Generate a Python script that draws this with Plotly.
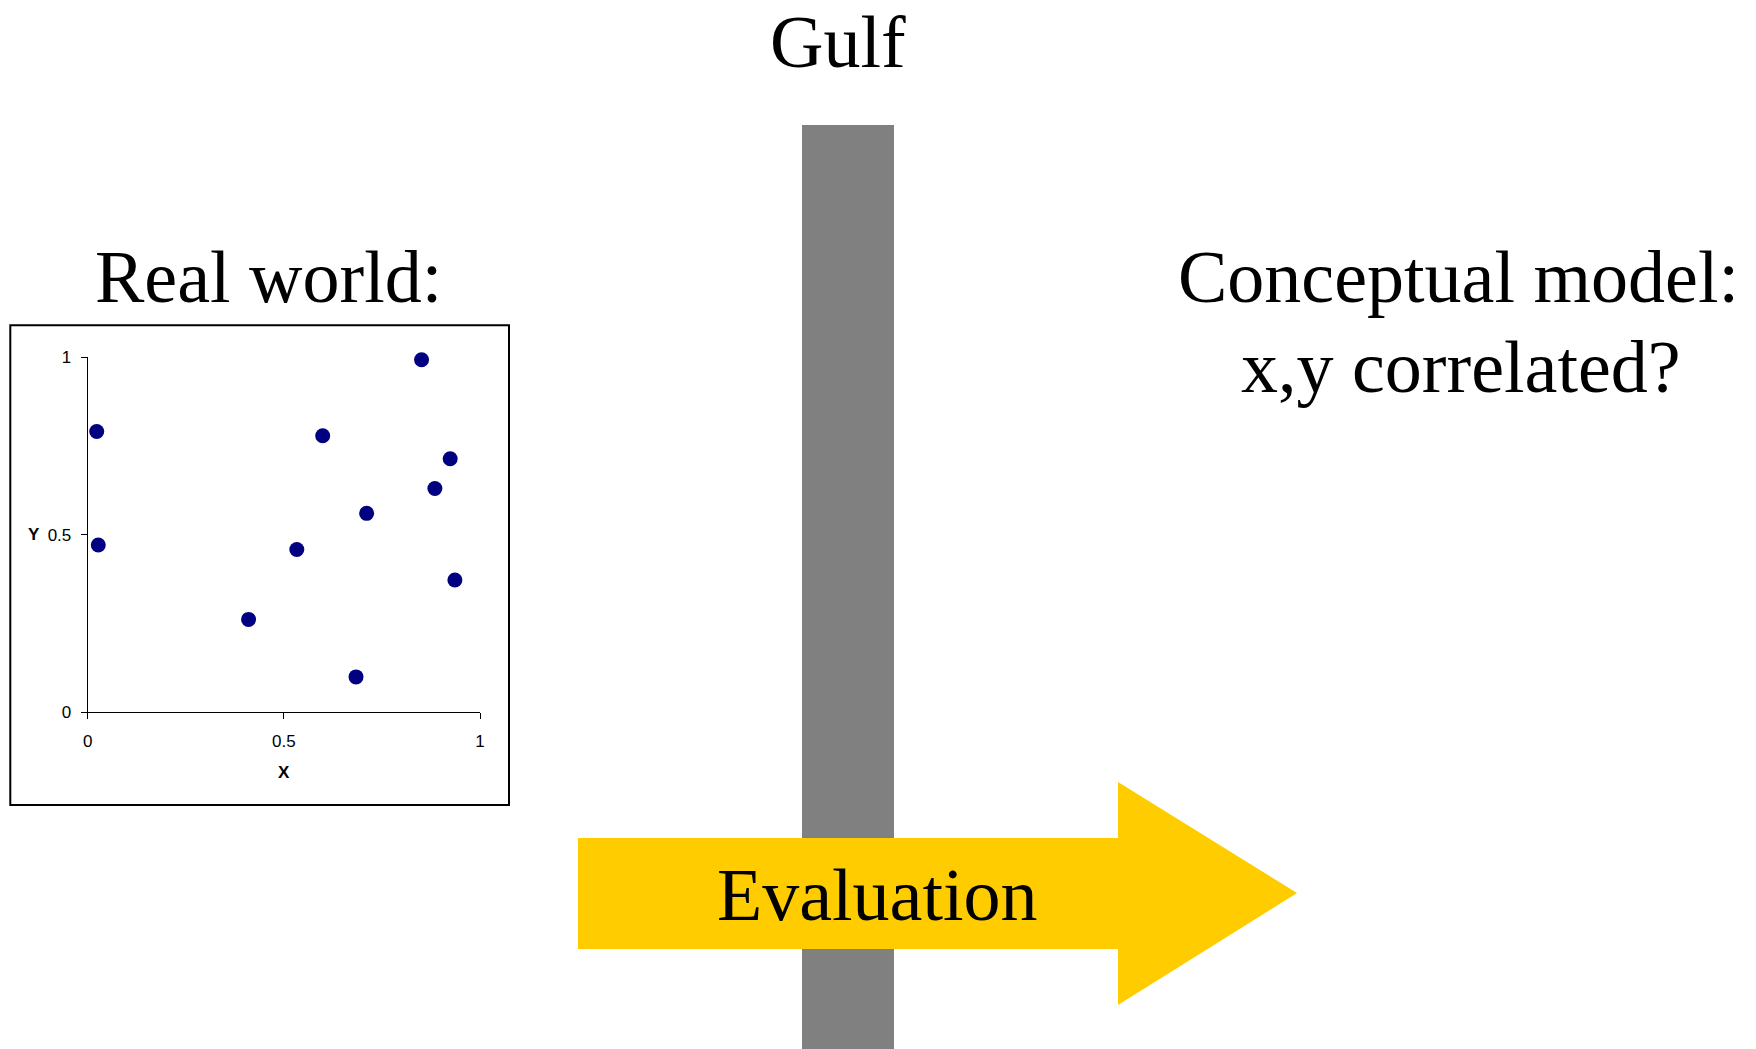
import plotly.graph_objects as go

W, H = 1756, 1049

# Data
x_vals = [0.023, 0.027, 0.410, 0.533, 0.599, 0.684, 0.711, 0.851, 0.885, 0.924, 0.936]
y_vals = [0.791, 0.471, 0.261, 0.458, 0.779, 0.099, 0.560, 0.993, 0.630, 0.714, 0.372]
tick_vals = [0, 0.5, 1]
tick_text = ["0", "0.5", "1"]


def px(x):
    return x / W


def py(y):
    return 1 - y / H


fig = go.Figure()
fig.add_trace(go.Scatter(
    x=x_vals, y=y_vals, mode="markers",
    marker=dict(color="#000080", size=15, line=dict(width=0)),
    cliponaxis=False, showlegend=False, hoverinfo="skip",
))

axis_font = dict(family="Liberation Sans, Arial", size=17, color="black")

fig.update_layout(
    width=W, height=H,
    margin=dict(l=0, r=0, t=0, b=0, pad=0, autoexpand=False),
    paper_bgcolor="white", plot_bgcolor="white",
    showlegend=False,
    xaxis=dict(
        domain=[px(87.7), px(480)], range=[0, 1], showgrid=False, zeroline=False,
        showline=True, linecolor="black", linewidth=1,
        ticks="outside", ticklen=6, tickcolor="black", tickwidth=1,
        tickvals=tick_vals, ticktext=tick_text, tickfont=axis_font,
        ticklabelstandoff=8, anchor="y", fixedrange=True, automargin=False,
    ),
    yaxis=dict(
        domain=[py(712), py(357.3)], range=[0, 1], showgrid=False, zeroline=False,
        showline=True, linecolor="black", linewidth=1,
        ticks="outside", ticklen=6, tickcolor="black", tickwidth=1,
        tickvals=tick_vals, ticktext=tick_text, tickfont=axis_font,
        ticklabelstandoff=6, anchor="x", fixedrange=True, automargin=False,
    ),
)

shapes = []
# scatter frame
shapes.append(dict(type="rect", xref="paper", yref="paper",
                   x0=px(10.3), x1=px(509), y0=py(805), y1=py(325.3),
                   line=dict(color="black", width=2), fillcolor="rgba(0,0,0,0)"))
# gulf bar
shapes.append(dict(type="rect", xref="paper", yref="paper",
                   x0=px(802), x1=px(894), y0=py(1049), y1=py(125),
                   line=dict(width=0), fillcolor="#808080", layer="below"))
# evaluation arrow
pts = [(578, 838), (1118, 838), (1118, 782), (1297, 893), (1118, 1005), (1118, 949), (578, 949)]
path = "M " + " L ".join(f"{px(a):.6f},{py(b):.6f}" for a, b in pts) + " Z"
shapes.append(dict(type="path", xref="paper", yref="paper", path=path,
                   line=dict(width=0), fillcolor="#FFCC00", layer="below"))
fig.update_layout(shapes=shapes)

serif = dict(family="Liberation Serif, Times New Roman, serif", size=74, color="black")
texts = [
    ("Gulf", 838, 42),
    ("Real world:", 268.6, 277),
    ("Conceptual model:", 1458, 277),
    ("x,y correlated?", 1461, 367),
    ("Evaluation", 877, 895),
]
annotations = []
for t, cx, cy in texts:
    annotations.append(dict(text=t, x=px(cx), y=py(cy), xref="paper", yref="paper",
                            xanchor="center", yanchor="middle", showarrow=False, font=serif))
annotations.append(dict(text="<b>Y</b>", x=px(34), y=0.5, xref="paper", yref="y",
                        xanchor="center", yanchor="middle", showarrow=False,
                        font=dict(family="Liberation Sans, Arial", size=17, color="black")))
annotations.append(dict(text="<b>X</b>", x=0.5, y=py(772), xref="x", yref="paper",
                        xanchor="center", yanchor="middle", showarrow=False,
                        font=dict(family="Liberation Sans, Arial", size=17, color="black")))
fig.update_layout(annotations=annotations)

fig.write_html(
    "out.html",
    config={"displayModeBar": False},
    post_script="document.body.style.margin='0';document.body.style.overflow='hidden';",
)
